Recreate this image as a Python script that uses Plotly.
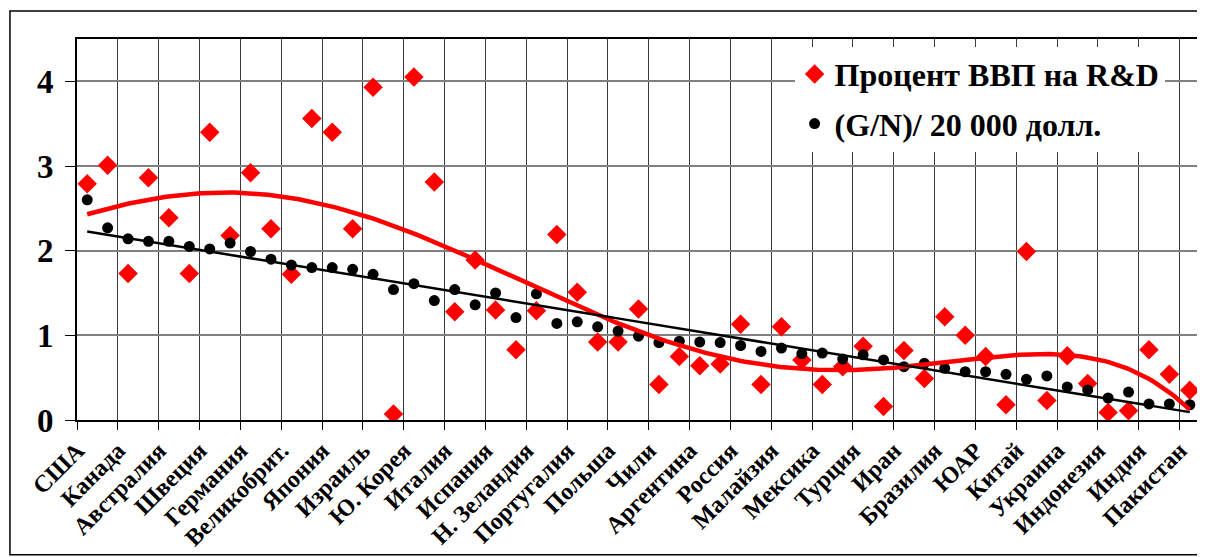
import numpy as np
import plotly.graph_objects as go

# Tick labels (every second category is labelled)
labels = ["США", "Канада", "Австралия", "Швеция", "Германия", "Великобрит.",
          "Япония", "Израиль", "Ю. Корея", "Италия", "Испания", "Н. Зеландия",
          "Португалия", "Польша", "Чили", "Аргентина", "Россия", "Малайзия",
          "Мексика", "Турция", "Иран", "Бразилия", "ЮАР", "Китай", "Украина",
          "Индонезия", "Индия", "Пакистан"]

# Процент ВВП на R&D
rd = [2.79, 3.01, 1.73, 2.86, 2.39, 1.73, 3.40, 2.18, 2.92, 2.26,
      1.72, 3.56, 3.40, 2.26, 3.93, 0.07, 4.05, 2.81, 1.28, 1.89,
      1.30, 0.83, 1.29, 2.19, 1.51, 0.92, 0.92, 1.31, 0.42, 0.75,
      0.64, 0.66, 1.13, 0.42, 1.10, 0.71, 0.42, 0.63, 0.87, 0.16,
      0.82, 0.49, 1.22, 1.00, 0.75, 0.18, 1.99, 0.23, 0.76, 0.43,
      0.09, 0.11, 0.83, 0.54, 0.35]

# (G/N) / 20 000 долл.
gn = [2.60, 2.27, 2.14, 2.11, 2.11, 2.05, 2.02, 2.09, 1.99, 1.90,
      1.83, 1.80, 1.80, 1.78, 1.72, 1.54, 1.61, 1.41, 1.54, 1.36,
      1.50, 1.21, 1.49, 1.14, 1.16, 1.10, 1.05, 0.99, 0.915, 0.93,
      0.92, 0.915, 0.88, 0.81, 0.85, 0.785, 0.79, 0.72, 0.77, 0.71,
      0.63, 0.67, 0.61, 0.57, 0.57, 0.54, 0.48, 0.52, 0.39, 0.355,
      0.26, 0.33, 0.19, 0.19, 0.18]

name_rd = "Процент ВВП на R&D"
name_gn = "(G/N)/ 20 000 долл."

n = len(rd)
x = np.arange(n)
xs = np.linspace(0, n - 1, 300)

# trend lines (Excel-style: x = 1..n)
p_poly = np.polyfit(x + 1, rd, 5)
p_lin = np.polyfit(x + 1, gn, 1)

FONT = "Liberation Serif"

fig = go.Figure()
fig.add_trace(go.Scatter(x=x, y=rd, mode="markers", name=name_rd, legendgroup="a",
                         marker=dict(symbol="diamond", size=15, color="#FF0000",
                                     line=dict(width=0))))
fig.add_trace(go.Scatter(x=x, y=gn, mode="markers", name=name_gn, legendgroup="b",
                         marker=dict(symbol="circle", size=11, color="black",
                                     line=dict(width=0))))
fig.add_trace(go.Scatter(x=xs, y=np.polyval(p_poly, xs + 1), mode="lines",
                         line=dict(color="#FF0000", width=4.5), showlegend=False,
                         hoverinfo="skip"))
fig.add_trace(go.Scatter(x=xs, y=np.polyval(p_lin, xs + 1), mode="lines",
                         line=dict(color="black", width=2.5), showlegend=False,
                         hoverinfo="skip"))

# page body has an 8px margin, so the figure is sized to fill the rest
fig.update_layout(
    width=1197, height=549,
    margin=dict(l=69, r=5, t=31, b=137, autoexpand=False),
    paper_bgcolor="white", plot_bgcolor="white",
    font=dict(family=FONT, color="black"),
    showlegend=True,
    legend=dict(x=0.639, y=0.98, xanchor="left", yanchor="top",
                bgcolor="white", borderwidth=0,
                font=dict(family=FONT, size=32, color="black", weight="bold"),
                entrywidth=360, tracegroupgap=5),
    xaxis=dict(range=[-0.5, n - 0.5], tickmode="array", automargin=False,
               tickvals=list(x[::2]), ticktext=labels, tickangle=-45,
               tickfont=dict(family=FONT, size=24, color="black", weight="bold"),
               ticks="", showgrid=False, zeroline=False,
               showline=True, linecolor="black", linewidth=2, mirror=True,
               ticklabelstandoff=5, ticklabelshift=-10,
               minor=dict(tickmode="array", tickvals=list(np.arange(-0.5, n, 2)),
                          ticks="outside", ticklen=8, tickcolor="black", tickwidth=1,
                          showgrid=True, gridcolor="#3a3a3a", gridwidth=1)),
    yaxis=dict(range=[0, 4.5], tickmode="array", tickvals=[0, 1, 2, 3, 4],
               automargin=False,
               tickfont=dict(family=FONT, size=33, color="black", weight="bold"),
               ticks="outside", ticklen=10, tickcolor="black",
               showgrid=True, gridcolor="#808080", gridwidth=1.5, zeroline=False,
               showline=True, linecolor="black", linewidth=2, mirror=True,
               ticklabelstandoff=5),
    shapes=[dict(type="rect", xref="paper", yref="paper",
                 x0=-0.0597, x1=1.0027, y0=-0.354, y1=1.0735,
                 line=dict(color="black", width=1.5), layer="below")],
)

fig.write_html("out.html")
